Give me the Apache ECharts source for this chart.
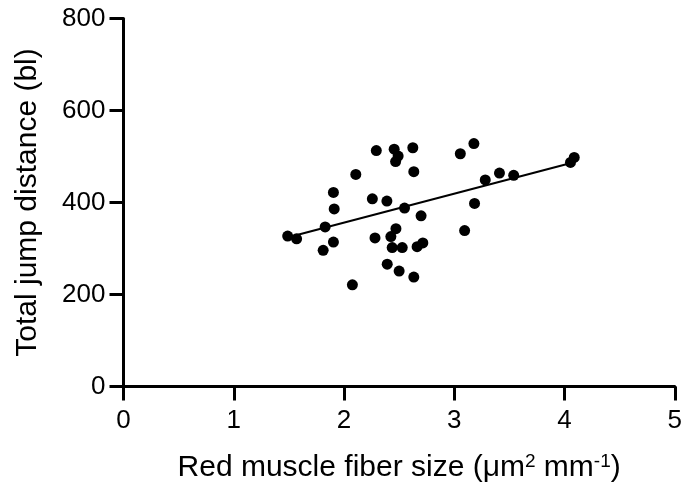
<!DOCTYPE html>
<html>
<head>
<meta charset="utf-8">
<script src="https://cdn.jsdelivr.net/npm/echarts@6/dist/echarts.min.js"></script>
<style>
html,body{margin:0;padding:0;background:#fff;}
#c{width:685px;height:488px;}
</style>
</head>
<body>
<div id="c"></div>
<script>
var fiberSize = [1.489,1.570,1.811,1.829,1.904,1.911,1.904,2.076,2.107,2.293,2.257,2.281,2.389,2.392,2.455,2.491,2.468,2.471,2.425,2.437,2.528,2.549,2.500,2.624,2.633,2.633,2.699,2.663,2.715,3.055,3.094,3.178,3.184,3.281,3.410,3.539,4.054,4.088];
var jumpDistance = [327,321,296,347,422,386,314,221,461,513,408,323,403,266,516,501,489,343,326,302,302,388,251,519,467,238,371,304,312,506,339,528,398,449,464,459,487,498];
var fitX = [1.486, 4.06];
var fitY = [324, 486];
var xTicks = [0,1,2,3,4,5];
var yTicks = [0,200,400,600,800];

var points = fiberSize.map(function(x,i){return [x, jumpDistance[i]];});
var fitLine = fitX.map(function(x,i){return [x, fitY[i]];});

var chart = echarts.init(document.getElementById('c'));
var font = 'Liberation Sans, Arial, sans-serif';
chart.setOption({
  animation:false,
  grid:{left:123.5,right:8,top:18.5,bottom:101,containLabel:false},
  xAxis:{
    type:'value',min:xTicks[0],max:xTicks[xTicks.length-1],interval:1,
    name:'Red muscle fiber size (\u03bcm{sup|2} mm{sup|-1})',
    nameLocation:'middle',nameGap:66,
    nameTextStyle:{fontFamily:font,fontSize:30,color:'#000',
      rich:{sup:{fontFamily:font,fontSize:19,color:'#000',verticalAlign:'top',padding:[0,0,12,0]}}},
    axisLine:{onZero:false,lineStyle:{color:'#000',width:3}},
    axisTick:{show:true,length:14,lineStyle:{color:'#000',width:3}},
    axisLabel:{fontFamily:font,fontSize:26,color:'#000',margin:21},
    splitLine:{show:false}
  },
  yAxis:{
    type:'value',min:yTicks[0],max:yTicks[yTicks.length-1],interval:200,
    name:'Total jump distance (bl)',
    nameLocation:'middle',nameGap:81,
    nameTextStyle:{fontFamily:font,fontSize:30,color:'#000'},
    axisLine:{onZero:false,lineStyle:{color:'#000',width:3}},
    axisTick:{show:true,length:14,lineStyle:{color:'#000',width:3}},
    axisLabel:{fontFamily:font,fontSize:26,color:'#000',margin:18},
    splitLine:{show:false}
  },
  series:[
    {type:'line',data:fitLine,symbol:'none',lineStyle:{color:'#000',width:2},z:2},
    {type:'scatter',data:points,symbol:'circle',symbolSize:11,itemStyle:{color:'#000',opacity:1},z:3}
  ]
});
</script>
</body>
</html>
